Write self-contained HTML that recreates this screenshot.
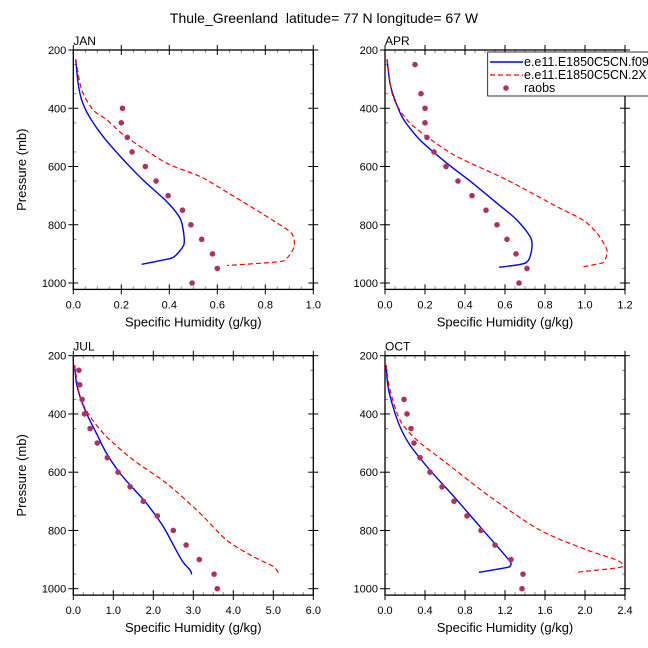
<!DOCTYPE html>
<html><head><meta charset="utf-8"><style>
body{margin:0;background:#fff}
svg{font-family:"Liberation Sans",sans-serif;display:block}
</style></head><body>
<svg id="c" width="648" height="648" viewBox="0 0 648 648">
<text x="324" y="23" font-size="14" text-anchor="middle" xml:space="preserve">Thule_Greenland  latitude= 77 N longitude= 67 W</text>
</svg>
<script>
const panelNames = ["JAN","APR","JUL","OCT"];
const xMaxes = [1.0,1.2,6.0,2.4];
const xTickLabelsJAN = ["0.0","0.2","0.4","0.6","0.8","1.0"];
const xTickLabelsAPR = ["0.0","0.2","0.4","0.6","0.8","1.0","1.2"];
const xTickLabelsJUL = ["0.0","1.0","2.0","3.0","4.0","5.0","6.0"];
const xTickLabelsOCT = ["0.0","0.4","0.8","1.2","1.6","2.0","2.4"];
const yTickLabels = ["200","400","600","800","1000"];
// JAN
const janBlueP = [232,314,372,429,498,578,646,721,778,830,870,910,921,936];
const janBlueQ = [0.01,0.02,0.035,0.067,0.125,0.21,0.29,0.39,0.445,0.46,0.46,0.42,0.375,0.285];
const janRedP = [232,337,406,440,498,589,635,703,784,830,875,915,927,940];
const janRedQ = [0.01,0.035,0.083,0.14,0.22,0.39,0.53,0.67,0.83,0.91,0.92,0.89,0.855,0.64];
const janObsP = [400,450,500,550,600,650,700,750,800,850,900,950,1000];
const janObsQ = [0.205,0.2,0.225,0.245,0.3,0.345,0.395,0.455,0.49,0.535,0.58,0.6,0.495];
// APR
const aprBlueP = [232,314,372,435,509,589,658,726,784,847,898,932,946];
const aprBlueQ = [0.01,0.025,0.05,0.09,0.175,0.31,0.44,0.56,0.66,0.73,0.73,0.70,0.57];
const aprRedP = [232,360,440,498,566,646,738,784,829,887,927,935,946];
const aprRedQ = [0.01,0.04,0.11,0.21,0.36,0.61,0.86,0.99,1.06,1.11,1.095,1.06,0.98];
const aprObsP = [250,350,400,450,500,550,600,650,700,750,800,850,900,950,1000];
const aprObsQ = [0.15,0.18,0.2,0.2,0.21,0.245,0.305,0.365,0.435,0.505,0.56,0.61,0.655,0.71,0.67];
// JUL
const julBlueP = [232,295,341,398,467,535,604,656,707,787,902,936,951];
const julBlueQ = [0.03,0.08,0.17,0.33,0.58,0.83,1.17,1.5,1.83,2.25,2.71,2.92,2.96];
const julRedP = [232,341,409,478,558,638,741,833,890,924,951];
const julRedQ = [0.03,0.17,0.42,0.83,1.5,2.33,3.17,3.83,4.5,5.0,5.15];
const julObsP = [250,300,350,400,450,500,550,600,650,700,750,800,850,900,950,1000];
const julObsQ = [0.14,0.16,0.22,0.28,0.42,0.6,0.85,1.12,1.42,1.75,2.1,2.5,2.82,3.15,3.52,3.6];
// OCT
const octBlueP = [232,306,375,444,507,593,684,787,902,922,927,944];
const octBlueQ = [0.01,0.03,0.08,0.15,0.25,0.45,0.69,0.95,1.24,1.25,1.22,0.94];
const octRedP = [232,318,421,490,570,684,799,867,902,922,930,944];
const octRedQ = [0.01,0.05,0.15,0.32,0.62,1.05,1.55,2.02,2.32,2.38,2.29,1.9];
const octObsP = [350,400,450,500,550,600,650,700,750,800,850,900,950,1000];
const octObsQ = [0.19,0.22,0.26,0.29,0.35,0.45,0.57,0.69,0.82,0.96,1.1,1.26,1.38,1.37];

const panels = [
 {name:"JAN",xmax:xMaxes[0],ticks:xTickLabelsJAN,bp:janBlueP,bq:janBlueQ,rp:janRedP,rq:janRedQ,op:janObsP,oq:janObsQ,x0:73.3,y0:50,minorPer:4},
 {name:"APR",xmax:xMaxes[1],ticks:xTickLabelsAPR,bp:aprBlueP,bq:aprBlueQ,rp:aprRedP,rq:aprRedQ,op:aprObsP,oq:aprObsQ,x0:385,y0:50,minorPer:4},
 {name:"JUL",xmax:xMaxes[2],ticks:xTickLabelsJUL,bp:julBlueP,bq:julBlueQ,rp:julRedP,rq:julRedQ,op:julObsP,oq:julObsQ,x0:73.3,y0:355.7,minorPer:4},
 {name:"OCT",xmax:xMaxes[3],ticks:xTickLabelsOCT,bp:octBlueP,bq:octBlueQ,rp:octRedP,rq:octRedQ,op:octObsP,oq:octObsQ,x0:385,y0:355.7,minorPer:4}
];
const NS="http://www.w3.org/2000/svg";
const svg=document.getElementById('c');
const W=240, PXPER=233/800, YMAX=1022;
function mk(tag,attrs,parent){const e=document.createElementNS(NS,tag);for(const k in attrs)e.setAttribute(k,attrs[k]);parent.appendChild(e);return e;}
function smoothPath(pts){
 let d='M'+pts[0][0]+','+pts[0][1];
 for(let i=0;i<pts.length-1;i++){
  const p0=pts[Math.max(0,i-1)],p1=pts[i],p2=pts[i+1],p3=pts[Math.min(pts.length-1,i+2)];
  const t=1/6*0.8;
  const c1=[p1[0]+(p2[0]-p0[0])*t,p1[1]+(p2[1]-p0[1])*t];
  const c2=[p2[0]-(p3[0]-p1[0])*t,p2[1]-(p3[1]-p1[1])*t];
  d+=' C'+c1[0]+','+c1[1]+' '+c2[0]+','+c2[1]+' '+p2[0]+','+p2[1];
 }
 return d;
}
panels.forEach(P=>{
 const H=(YMAX-200)*PXPER;
 const g=mk('g',{},svg);
 
 
 const sx=q=>P.x0+q/P.xmax*W;
 const sy=p=>P.y0+(p-200)*PXPER;
 const nx=P.ticks.length-1;
 for(let i=0;i<=nx*P.minorPer;i++){
  if(i%P.minorPer===0)continue;
  const x=P.x0+i*W/(nx*P.minorPer);
  mk('line',{x1:x,x2:x,y1:P.y0,y2:P.y0+3,stroke:'#888','stroke-width':1},g);
  mk('line',{x1:x,x2:x,y1:P.y0+H,y2:P.y0+H-3,stroke:'#888','stroke-width':1},g);
 }
 for(let p=250;p<YMAX;p+=100){
  const y=sy(p);
  mk('line',{x1:P.x0,x2:P.x0+3,y1:y,y2:y,stroke:'#888','stroke-width':1},g);
  mk('line',{x1:P.x0+W,x2:P.x0+W-3,y1:y,y2:y,stroke:'#888','stroke-width':1},g);
 }
 P.ticks.forEach((t,i)=>{
  const x=P.x0+i*W/nx;
  mk('line',{x1:x,x2:x,y1:P.y0-5,y2:P.y0+5,stroke:'#000','stroke-width':1},g);
  mk('line',{x1:x,x2:x,y1:P.y0+H-5,y2:P.y0+H+5,stroke:'#000','stroke-width':1},g);
  const tx=mk('text',{x:x,y:P.y0+H+19,'font-size':11,'text-anchor':'middle'},g);
  
  
  tx.textContent=t;
 });
 yTickLabels.forEach(t=>{
  const y=sy(+t);
  mk('line',{x1:P.x0-5,x2:P.x0+5,y1:y,y2:y,stroke:'#000','stroke-width':1},g);
  mk('line',{x1:P.x0+W-5,x2:P.x0+W+5,y1:y,y2:y,stroke:'#000','stroke-width':1},g);
  const tx=mk('text',{x:P.x0-7,y:y+4,'font-size':11,'text-anchor':'end'},g);
  
  
  tx.textContent=t;
 });
 const fr=mk('rect',{x:P.x0,y:P.y0,width:W,height:H,fill:'none',stroke:'#000','stroke-width':1.3},g);
 
 
 const lbl=mk('text',{x:P.x0,y:P.y0-5,'font-size':12},g);
 
 
 lbl.textContent=P.name;
 const xt=mk('text',{x:P.x0+W/2,y:P.y0+H+37,'font-size':13,'text-anchor':'middle'},g);
 
 
 xt.textContent='Specific Humidity (g/kg)';
 if(P.x0<200){
  const cy=P.y0+H/2;
  const yt=mk('text',{x:26,y:cy,'font-size':13,'text-anchor':'middle',transform:'rotate(-90 26 '+cy+')'},g);
  
  
  yt.textContent='Pressure (mb)';
 }
 const bl=mk('path',{d:smoothPath(P.bp.map((p,i)=>[sx(P.bq[i]),sy(p)])),fill:'none',stroke:'#0000ff','stroke-width':1.4},g);
 
 
 const rl=mk('path',{d:smoothPath(P.rp.map((p,i)=>[sx(P.rq[i]),sy(p)])),fill:'none',stroke:'#ff0000','stroke-width':1.2,'stroke-dasharray':'5,3'},g);
 
 
 P.op.forEach((p,i)=>{
  const c=mk('circle',{cx:sx(P.oq[i]),cy:sy(p),r:2.8,fill:'#b03060'},g);
  
  
 });
});
const lg=mk('g',{},svg);


mk('rect',{x:487.7,y:52,width:170,height:44,fill:'#fff',stroke:'#000','stroke-width':0.8},lg);
mk('line',{x1:490,x2:523,y1:62,y2:62,stroke:'#0000ff','stroke-width':1.4},lg);
mk('line',{x1:490,x2:523,y1:75,y2:75,stroke:'#ff0000','stroke-width':1.2,'stroke-dasharray':'5,3'},lg);
mk('circle',{cx:506,cy:88,r:2.8,fill:'#b03060'},lg);
[['e.e11.E1850C5CN.f09','legend-entry-f09',66],['e.e11.E1850C5CN.2X','legend-entry-2x',79],['raobs','legend-entry-raobs',92]].forEach(a=>{
 const t=mk('text',{x:524,y:a[2],'font-size':12.5},lg);
 
 
 t.textContent=a[0];
});
</script>
</body></html>
